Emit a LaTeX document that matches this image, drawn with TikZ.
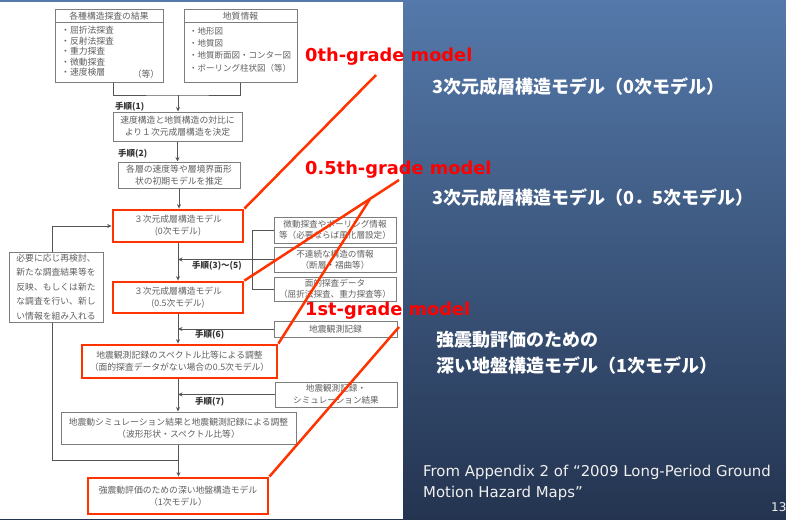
\documentclass[tikz,border=0pt]{standalone}
\usepackage{fontspec}
\setmainfont{DejaVu Sans}
\newfontfamily\jp{Noto Sans CJK JP}
\usetikzlibrary{arrows.meta}
\definecolor{bgtop}{RGB}{84,121,170}
\definecolor{bgbot}{RGB}{36,52,80}
\definecolor{redline}{RGB}{255,51,0}
\definecolor{redtxt}{RGB}{255,0,0}
\definecolor{boxgray}{RGB}{125,125,125}
\definecolor{linegray}{RGB}{85,85,85}
\definecolor{txtgray}{RGB}{95,95,95}
\tikzset{
  fbox/.style={draw=boxgray, line width=1pt, fill=white, inner sep=0pt, align=center,
    font=\jp\fontsize{8.8}{12}\selectfont, text=txtgray},
  redbox/.style={fbox, draw=redline, line width=2.8pt},
  plain/.style={inner sep=0pt, font=\jp\fontsize{8.8}{11}\selectfont, text=txtgray},
  arr/.style={draw=linegray, line width=0.9pt, -{Stealth[length=4.5pt,width=4pt]}},
  ln/.style={draw=linegray, line width=0.9pt},
  steplbl/.style={font=\jp\bfseries\fontsize{8.5}{10}\selectfont, text=black!80, anchor=west, inner sep=0pt},
  anno/.style={font=\bfseries\fontsize{17.8}{20}\selectfont, text=redtxt, anchor=west, inner sep=0pt},
  pointer/.style={draw=redline, line width=2.5pt},
  wtxt/.style={font=\jp\bfseries\fontsize{18}{26}\selectfont, text=white, anchor=west, inner sep=0pt, align=left},
  ftxt/.style={font=\fontsize{14.9}{21}\selectfont, text=white!94!black, anchor=west, inner sep=0pt, align=left}
}
\begin{document}
\begin{tikzpicture}[x=1pt,y=-1pt]
\useasboundingbox (0,0) rectangle (786,519);
\shade[top color=bgtop, bottom color=bgbot] (0,0) rectangle (786,519);
\fill[white] (0,2) rectangle (403,519);

% top boxes
\node[fbox, minimum width=108, minimum height=72] (A) at (109,46) {};
\draw[draw=boxgray, line width=1pt] (55,23) -- (163,23);
\node[plain] (Ah) at (109,16.5) {各種構造探査の結果};
\node[plain, anchor=north west, align=left, font=\jp\fontsize{8.8}{10.5}\selectfont] (Ai) at (61,26)
  {・屈折法探査\\・反射法探査\\・重力探査\\・微動探査\\・速度検層};
\node[plain] (Ae) at (146,74) {（等）};

\node[fbox, minimum width=113, minimum height=72] (B) at (240.5,46) {};
\draw[draw=boxgray, line width=1pt] (184,23) -- (297,23);
\node[plain] (Bh) at (240.5,16.5) {地質情報};
\node[plain, anchor=north west, align=left, font=\jp\fontsize{8.5}{12.3}\selectfont] (Bi) at (189,27)
  {・地形図\\・地質図\\・地質断面図・コンター図\\・ボーリング柱状図（等）};

% main chain
\node[fbox, minimum width=129, minimum height=29] (C) at (177.5,126.5)
  {速度構造と地質構造の対比に\\より１次元成層構造を決定};
\node[fbox, minimum width=122, minimum height=26] (D) at (179,175)
  {各層の速度等や層境界面形\\状の初期モデルを推定};
\node[redbox, minimum width=130, minimum height=32] (E) at (178,226)
  {３次元成層構造モデル\\(0次モデル)};
\node[redbox, minimum width=130, minimum height=31] (G) at (178,297.5)
  {３次元成層構造モデル\\(0.5次モデル)};
\node[redbox, minimum width=195, minimum height=33] (I) at (179.5,361.5)
  {地震観測記録のスペクトル比等による調整\\（面的探査データがない場合の0.5次モデル）};
\node[fbox, minimum width=235, minimum height=32] (K) at (178.5,428)
  {地震動シミュレーション結果と地震観測記録による調整\\（波形形状・スペクトル比等）};
\node[redbox, minimum width=180, minimum height=36] (M) at (178,496)
  {強震動評価のための深い地盤構造モデル\\（1次モデル）};

% right side inputs
\node[fbox, minimum width=122, minimum height=26, font=\jp\fontsize{8.6}{10.5}\selectfont] (H1) at (335,230)
  {微動探査やボーリング情報\\等（必要ならば風化層設定）};
\node[fbox, minimum width=122, minimum height=25, font=\jp\fontsize{8.6}{11}\selectfont] (H2) at (335,259.5)
  {不連続な構造の情報\\（断層・褶曲等）};
\node[fbox, minimum width=122, minimum height=24, font=\jp\fontsize{8.6}{11}\selectfont] (H3) at (335,289)
  {面的探査データ\\（屈折法探査、重力探査等）};
\node[fbox, minimum width=123, minimum height=16] (J) at (335.5,329) {地震観測記録};
\node[fbox, minimum width=122, minimum height=25, font=\jp\fontsize{8.6}{12}\selectfont] (L) at (336,394.5)
  {地震観測記録・\\シミュレーション結果};

% connectors
\coordinate (j1) at (178,95);
\draw[ln] ([xshift=4pt]A.south) |- (j1) -| (B.south);
\draw[arr] (j1) -- (j1 |- C.north);
\draw[arr] (C.south) -- (C.south |- D.north);
\draw[arr] (D.south) -- (D.south |- E.north);
\draw[arr] (E.south) -- (E.south |- G.north);
\draw[arr] (G.south) -- (G.south |- I.north);
\draw[arr] ([xshift=-1.5pt]I.south) -- ([xshift=-1.5pt]I.south |- K.north);
\draw[arr] (K.south) -- (K.south |- M.north);
\draw[arr] (H2.west) -- (H2.west -| E.south);
\draw[ln] (H1.west) -- ++(-21,0) |- (H3.west);
\draw[arr] (J.west) -- (J.west -| G.south);
\draw[arr] (L.west) -- (L.west -| G.south);
\coordinate (lp) at (178,460);
\coordinate (lc) at (52,460);
\draw[arr] (lp) -- (lc) |- (E.west);

\node[fbox, minimum width=94, minimum height=70, font=\jp\fontsize{8.8}{14.5}\selectfont] (F) at (56,287)
  {必要に応じ再検討、\\新たな調査結果等を\\反映、もしくは新た\\な調査を行い、新し\\い情報を組み入れる};

% step labels
\node[steplbl] (s1) at (115,107) {手順(1)};
\node[steplbl] (s2) at (118,154) {手順(2)};
\node[steplbl] (s3) at (192,266) {手順(3)〜(5)};
\node[steplbl] (s6) at (195,335) {手順(6)};
\node[steplbl] (s7) at (195,402) {手順(7)};

% red annotations
\node[anno] (t0) at (305,57) {0th-grade model};
\node[anno] (t05) at (305,170) {0.5th-grade model};
\node[anno] (t1) at (305,311) {1st-grade model};
\coordinate (p0) at (376,75);
\coordinate (p05) at (399,180);
\coordinate (p05b) at (370,199);
\coordinate (p1) at (399,327);
\draw[pointer] (p0) -- (E.north east);
\draw[pointer] (p05) -- (G.north east);
\draw[pointer] (p05b) -- (I.north east);
\draw[pointer] (p1) -- (M.north east);

% right text
\node[wtxt] (w0) at (432,87) {3次元成層構造モデル（0次モデル）};
\node[wtxt] (w05) at (432,198) {3次元成層構造モデル（0．5次モデル）};
\node[wtxt] (w1) at (436,353) {強震動評価のための\\深い地盤構造モデル（1次モデル）};
\node[ftxt] (src) at (423,482.5) {From Appendix 2 of “2009 Long-Period Ground\\Motion Hazard Maps”};
\node[ftxt, font=\fontsize{12}{14}\selectfont] (pg) at (771,507) {13};
\end{tikzpicture}
\end{document}
